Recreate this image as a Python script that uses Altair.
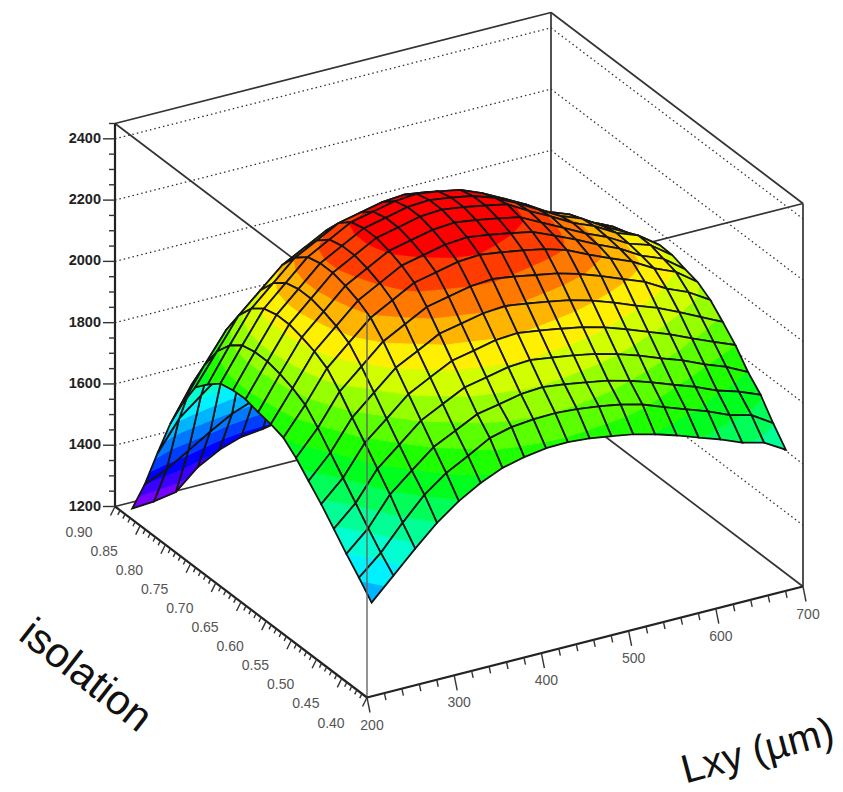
import colorsys
import altair as alt

# ---- data ----
LXY_NODES = [212.5, 237.5, 262.5, 287.5, 312.5, 337.5, 362.5, 387.5, 412.5, 437.5,
             462.5, 487.5, 512.5, 537.5, 562.5, 587.5, 612.5, 637.5, 662.5, 687.5]
ISO_NODES = [0.4125, 0.4375, 0.4625, 0.4875, 0.5125, 0.5375, 0.5625, 0.5875, 0.6125, 0.6375,
             0.6625, 0.6875, 0.7125, 0.7375, 0.7625, 0.7875, 0.8125, 0.8375, 0.8625, 0.8875]
# one row per Lxy node, one column per isolation node
Z = [
 [1485,1535,1582,1632,1682,1726,1770,1805,1818,1826,1837,1835,1826,1792,1751,1667,1568,1442,1310,1200],
 [1555,1598,1647,1698,1749,1800,1850,1894,1917,1932,1942,1942,1932,1901,1850,1774,1680,1538,1341,1205],
 [1625,1678,1739,1792,1845,1897,1950,1995,2019,2034,2045,2045,2034,2003,1950,1871,1753,1595,1384,1217],
 [1691,1751,1799,1852,1906,1960,2014,2060,2084,2100,2111,2111,2100,2068,2014,1933,1812,1651,1428,1280],
 [1744,1804,1858,1913,1968,2023,2078,2124,2149,2166,2177,2177,2166,2133,2078,1995,1872,1707,1468,1319],
 [1785,1842,1893,1949,2005,2060,2116,2163,2188,2205,2216,2216,2205,2171,2116,2032,1907,1740,1495,1343],
 [1816,1882,1929,1985,2041,2098,2154,2202,2227,2244,2255,2255,2244,2210,2154,2069,1943,1774,1534,1351],
 [1833,1900,1943,2000,2056,2113,2170,2218,2243,2260,2271,2271,2260,2226,2170,2085,1957,1788,1547,1365],
 [1844,1907,1958,2015,2072,2128,2185,2234,2259,2276,2288,2288,2276,2242,2185,2100,1972,1801,1560,1375],
 [1846,1909,1963,2020,2077,2134,2191,2239,2265,2282,2293,2293,2282,2248,2191,2105,1977,1806,1564,1380],
 [1840,1904,1954,2010,2067,2124,2181,2229,2255,2272,2283,2283,2272,2238,2181,2096,1968,1797,1556,1375],
 [1829,1895,1942,1999,2055,2112,2168,2217,2242,2259,2270,2270,2259,2217,2168,2084,1956,1787,1546,1370],
 [1817,1883,1930,1986,2042,2099,2155,2203,2228,2245,2256,2246,2230,2193,2140,2060,1944,1775,1535,1360],
 [1799,1865,1911,1967,2023,2079,2135,2182,2198,2209,2216,2211,2194,2161,2105,2021,1895,1757,1519,1345],
 [1777,1838,1888,1944,1999,2055,2110,2149,2167,2174,2180,2172,2157,2121,2065,1985,1860,1735,1499,1330],
 [1752,1813,1862,1917,1972,2027,2082,2119,2132,2138,2141,2133,2115,2081,2026,1950,1830,1711,1477,1315],
 [1728,1788,1837,1892,1946,2001,2055,2090,2101,2108,2112,2106,2088,2050,2000,1930,1810,1687,1455,1300],
 [1699,1758,1807,1861,1915,1969,2015,2050,2060,2068,2072,2062,2045,2020,1985,1925,1810,1659,1429,1275],
 [1681,1740,1785,1835,1885,1935,1985,2020,2032,2045,2046,2025,2012,1990,1955,1885,1770,1620,1400,1250],
 [1640,1695,1757,1800,1857,1901,1942,1969,1980,1994,1996,1981,1965,1935,1880,1810,1700,1560,1350,1220],
]
Z_TICKS = [1200, 1400, 1600, 1800, 2000, 2200, 2400]
LXY_TICKS = [200, 300, 400, 500, 600, 700]
ISO_TICKS = ["0.40", "0.45", "0.50", "0.55", "0.60", "0.65", "0.70", "0.75", "0.80", "0.85", "0.90"]

LXY_MIN, LXY_MAX = 200.0, 700.0
ISO_MIN, ISO_MAX = 0.40, 0.90
Z_MIN, Z_MAX = 1200.0, 2450.0
N_LEVELS = 20
LEVEL_LO, LEVEL_HI = 1200.0, 2295.0

W, H = 827, 784


def proj(lxy, iso, z):
    """Oblique view of the data cube, in page pixels of the plot area."""
    u = (lxy - LXY_MIN) / (LXY_MAX - LXY_MIN)
    v = (iso - ISO_MIN) / (ISO_MAX - ISO_MIN)
    w = (z - Z_MIN) / (Z_MAX - Z_MIN)
    return [359.0 + 436.0 * u - 252.0 * v, 689.5 - 111.0 * u - 191.0 * v - 383.0 * w]


def line(p, q):
    return {"type": "Feature", "properties": {},
            "geometry": {"type": "LineString", "coordinates": [p, q]}}


def band_colour(k):
    hue = 268.0 * (1 - k / (N_LEVELS - 1)) / 360.0
    r, g, b = colorsys.hls_to_rgb(hue, 0.5, 1.0)
    return "#%02x%02x%02x" % (round(r * 255), round(g * 255), round(b * 255))


def clip(poly, level, keep_above):
    out = []
    n = len(poly)
    for a in range(n):
        p, q = poly[a], poly[(a + 1) % n]
        pin = p[2] >= level if keep_above else p[2] <= level
        qin = q[2] >= level if keep_above else q[2] <= level
        if pin:
            out.append(p)
        if pin != qin:
            t = (level - p[2]) / (q[2] - p[2])
            out.append([p[m] + t * (q[m] - p[m]) for m in range(3)])
    return out


def polygon(points, fill, stroke, sw):
    ring = [proj(*p) for p in points]
    ring.append(ring[0])
    return {"type": "Feature",
            "properties": {"fill": fill, "stroke": stroke, "sw": sw},
            "geometry": {"type": "Polygon", "coordinates": [ring]}}


# ---- surface, painted far to near ----
step = (LEVEL_HI - LEVEL_LO) / N_LEVELS
surface = []
for i in range(len(LXY_NODES) - 2, -1, -1):
    for j in range(len(ISO_NODES) - 2, -1, -1):
        quad = [[LXY_NODES[a], ISO_NODES[b], float(Z[a][b])]
                for a, b in ((i, j), (i + 1, j), (i + 1, j + 1), (i, j + 1))]
        for k in range(N_LEVELS):
            lo, hi = LEVEL_LO + k * step, LEVEL_LO + (k + 1) * step
            if k == 0:
                lo = -1e9
            if k == N_LEVELS - 1:
                hi = 1e9
            part = clip(quad, lo, True)
            if len(part) >= 3:
                part = clip(part, hi, False)
            if len(part) >= 3:
                c = band_colour(k)
                surface.append(polygon(part, c, c, 0.7))
        surface.append(polygon(quad, "transparent", "#141414", 1.8))

# ---- box ----
a, b = LXY_MIN, LXY_MAX
c, d = ISO_MIN, ISO_MAX
lo, hi = Z_MIN, Z_MAX
box = [
    line(proj(a, d, lo), proj(b, d, lo)), line(proj(b, d, lo), proj(b, c, lo)),
    line(proj(a, d, hi), proj(b, d, hi)), line(proj(b, d, hi), proj(b, c, hi)),
    line(proj(a, d, hi), proj(a, c, hi)), line(proj(a, c, hi), proj(b, c, hi)),
    line(proj(b, d, lo), proj(b, d, hi)), line(proj(b, c, lo), proj(b, c, hi)),
]
front_edge = [line(proj(a, c, lo), proj(a, c, hi))]
axes = [line(proj(a, d, lo), proj(a, d, hi)),
        line(proj(a, d, lo), proj(a, c, lo)),
        line(proj(a, c, lo), proj(b, c, lo))]

# ---- dotted wall grid ----
dotted = []
for z in Z_TICKS[1:]:
    dotted.append(line(proj(a, d, z), proj(b, d, z)))
    dotted.append(line(proj(b, d, z), proj(b, c, z)))


def shift(p, dx, dy):
    return [p[0] + dx, p[1] + dy]


# ---- ticks ----
ticks = []
zt = 1200
while zt <= 2450:
    p = proj(a, d, zt)
    ticks.append(line(p, shift(p, -12 if zt % 200 == 0 else -6, 0)))
    zt += 50
lt = 200
while lt <= 700:
    p = proj(lt, c, lo)
    major = lt % 100 == 0
    ticks.append(line(p, shift(p, 3 if major else 1.5, 15 if major else 7)))
    lt += 20
for n in range(51):
    iso = 0.40 + n * 0.01
    p = proj(a, iso, lo)
    major = n % 5 == 0
    ticks.append(line(p, shift(p, -4.5 if major else -2.2, 9 if major else 4.5)))

# ---- tick labels ----
z_labels = [dict(zip(("x", "y"), shift(proj(a, d, z), -14, 0))) | {"t": str(z)} for z in Z_TICKS]
lxy_labels = [dict(zip(("x", "y"), shift(proj(v, c, lo), 5, 28))) | {"t": str(v)} for v in LXY_TICKS]
iso_labels = [dict(zip(("x", "y"), shift(proj(a, float(v), lo), -36, 26))) | {"t": v} for v in ISO_TICKS]
titles_iso = [dict(zip(("x", "y"), shift(proj(a, 0.575, lo), -193, 45))) | {"t": "isolation"}]
titles_lxy = [dict(zip(("x", "y"), shift(proj(600, c, lo), 42, 143))) | {"t": "Lxy (\u00b5m)"}]

PROJ = dict(type="identity", scale=1, translate=[0, 0])


def lines(features, colour, width, dash=None):
    kw = {"filled": False, "stroke": colour, "strokeWidth": width}
    if dash:
        kw["strokeDash"] = dash
    return alt.Chart(alt.Data(values=features)).mark_geoshape(**kw).project(**PROJ)


surface_layer = (
    alt.Chart(alt.Data(values=surface))
    .mark_geoshape()
    .encode(
        fill=alt.Fill("properties.fill:N", scale=None),
        stroke=alt.Stroke("properties.stroke:N", scale=None),
        strokeWidth=alt.StrokeWidth("properties.sw:Q", scale=None),
    )
    .project(**PROJ)
)

X = alt.X("x:Q", scale=alt.Scale(domain=[0, W], range=[0, W], nice=False, zero=False), axis=None)
Y = alt.Y("y:Q", scale=alt.Scale(domain=[0, H], range=[0, H], nice=False, zero=False), axis=None)


def texts(rows, **kw):
    return alt.Chart(alt.Data(values=rows)).mark_text(font="Liberation Sans", **kw).encode(x=X, y=Y, text="t:N")


chart = alt.layer(
    lines(dotted, "#333333", 1.3, [1.5, 3]),
    lines(box, "#333333", 1.7),
    surface_layer,
    lines(front_edge, "#666666", 1.4),
    lines(axes, "#222222", 2.2),
    lines(ticks, "#333333", 1.4),
    texts(z_labels, fontSize=14.5, fontWeight="bold", align="right", baseline="middle", color="#222222"),
    texts(lxy_labels, fontSize=14, align="center", baseline="middle", color="#555555"),
    texts(iso_labels, fontSize=14, align="center", baseline="middle", color="#555555"),
    texts(titles_iso, fontSize=42, angle=38, align="center", baseline="middle", color="#111111"),
    texts(titles_lxy, fontSize=40, angle=345, align="center", baseline="middle", color="#111111"),
).properties(
    width=W, height=H, padding=0, background="white",
    autosize=alt.AutoSizeParams(type="none"),
).configure_view(stroke=None)

chart.save("out.html", embed_options={"renderer": "svg", "actions": False})
